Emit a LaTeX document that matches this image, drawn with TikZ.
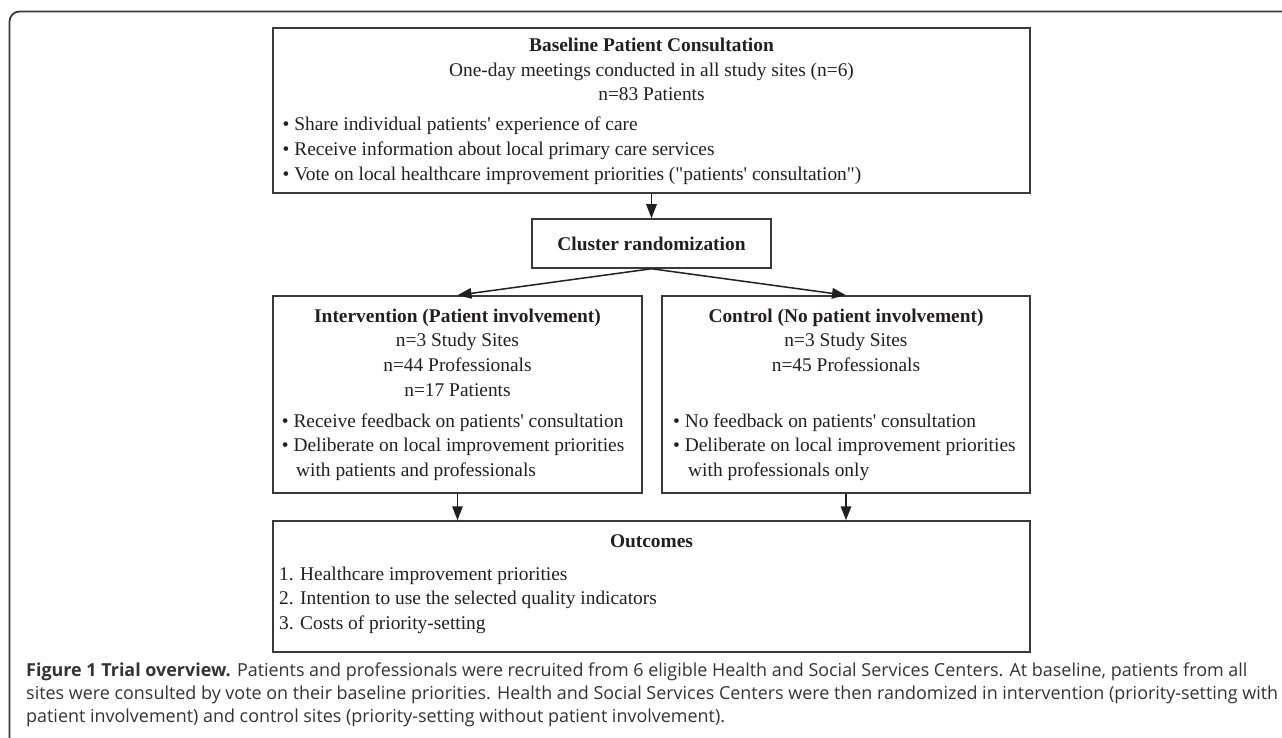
\documentclass[tikz,border=0pt]{standalone}
\usepackage{fontspec}
\usepackage{graphicx}
\setmainfont{Liberation Serif}
\newfontfamily\capfont{Open Sans}
\font\plainserif="Liberation Serif" at 19.4pt
\newcommand\sq{{\plainserif\char39}}
\newcommand\dq{{\plainserif\char34}}
\usetikzlibrary{arrows.meta}
\definecolor{ink}{HTML}{231F20}
\definecolor{framecol}{HTML}{3A3A3A}
\definecolor{captxt}{HTML}{333333}
\newlength\capw
\tikzset{
  box/.style={draw=framecol, line width=1.5pt, inner sep=0pt},
  arr/.style={draw=ink, line width=1.5pt, -{Triangle[length=14pt,width=10.5pt]}},
  txt/.style={anchor=base, inner sep=0pt, text=ink, font=\fontsize{19.4}{24.7}\selectfont},
  ttl/.style={txt, font=\fontsize{19.4}{24.7}\selectfont\bfseries},
  lft/.style={txt, anchor=base west},
  captionline/.style={anchor=base west, inner sep=0pt, text=captxt},
}
\begin{document}
\settowidth\capw{\capfont\fontsize{15.5}{18}\selectfont sites were consulted by vote on their baseline priorities. Health and Social Services Centers were then randomized in intervention (priority-setting with}%
\pgfmathsetmacro\capfs{(1252/\capw)*15.5}%
\begin{tikzpicture}[x=1pt,y=-1pt]
\useasboundingbox (0,0) rectangle (1282,738);
\begin{scope}
\clip (0,0) rectangle (1282,738);
\draw[framecol, line width=1.8pt, rounded corners=10pt] (9.5,760) -- (9.5,11.5) -- (1300,11.5);
\end{scope}

% boxes
\node[box, minimum width=757pt, minimum height=165pt] (base) at (651.5,110.5) {};
\node[box, minimum width=239pt, minimum height=49pt] (clu) at (651.5,243.5) {};
\node[box, minimum width=369pt, minimum height=197pt] (int) at (457.5,394.5) {};
\node[box, minimum width=368pt, minimum height=197pt] (ctl) at (846,394.5) {};
\node[box, minimum width=757pt, minimum height=131pt] (out) at (651.5,586.5) {};

% connectors
\draw[arr] (base.south) -- (clu.north);
\draw[arr] (clu.south) -- (int.north);
\draw[arr] (clu.south) -- (ctl.north);
\draw[arr] (int.south) -- (int.south |- out.north);
\draw[arr] (ctl.south) -- (ctl.south |- out.north);

% baseline box text
\node[ttl] (b1) at (651.5,52) {Baseline Patient Consultation};
\node[txt] (b2) at (651.5,77) {One-day meetings conducted in all study sites (n=6)};
\node[txt] (b3) at (651.5,101) {n=83 Patients};
\node[lft] (b4) at (282.5,131) {• Share individual patients\sq{} experience of care};
\node[lft] (b5) at (282.5,156) {• Receive information about local primary care services};
\node[lft] (b6) at (282.5,181) {• Vote on local healthcare improvement priorities (\dq{}patients\sq{} consultation\dq)};

% cluster
\node[ttl] (c1) at (651.5,250) {Cluster randomization};

% intervention
\node[ttl] (i1) at (457.5,322) {Intervention (Patient involvement)};
\node[txt] (i2) at (457.5,346.7) {n=3 Study Sites};
\node[txt] (i3) at (457.5,371.4) {n=44 Professionals};
\node[txt] (i4) at (457.5,396.1) {n=17 Patients};
\node[lft] (i5) at (281.7,427) {• Receive feedback on patients\sq{} consultation};
\node[lft] (i6) at (281.7,451.7) {• Deliberate on local improvement priorities};
\node[lft] (i7) at (296,476.4) {with patients and professionals};

% control
\node[ttl] (k1) at (846,322) {Control (No patient involvement)};
\node[txt] (k2) at (846,346.7) {n=3 Study Sites};
\node[txt] (k3) at (846,371.4) {n=45 Professionals};
\node[lft] (k5) at (673,427) {• No feedback on patients\sq{} consultation};
\node[lft] (k6) at (673,451.7) {• Deliberate on local improvement priorities};
\node[lft] (k7) at (688,476.4) {with professionals only};

% outcomes
\node[ttl] (o1) at (651.5,547.5) {Outcomes};
\node[lft] (o2) at (279,580) {1. Healthcare improvement priorities};
\node[lft] (o3) at (279,604.5) {2. Intention to use the selected quality indicators};
\node[lft] (o4) at (279,629) {3. Costs of priority-setting};

% caption
\node[captionline] (cap1) at (26,676) {\capfont\fontsize{\capfs}{20}\selectfont\textbf{Figure 1 Trial overview.} Patients and professionals were recruited from 6 eligible Health and Social Services Centers. At baseline, patients from all};
\node[captionline] (cap2) at (26,699) {\capfont\fontsize{\capfs}{20}\selectfont sites were consulted by vote on their baseline priorities. Health and Social Services Centers were then randomized in intervention (priority-setting with};
\node[captionline] (cap3) at (26,722) {\capfont\fontsize{\capfs}{20}\selectfont patient involvement) and control sites (priority-setting without patient involvement).};
\end{tikzpicture}
\end{document}
